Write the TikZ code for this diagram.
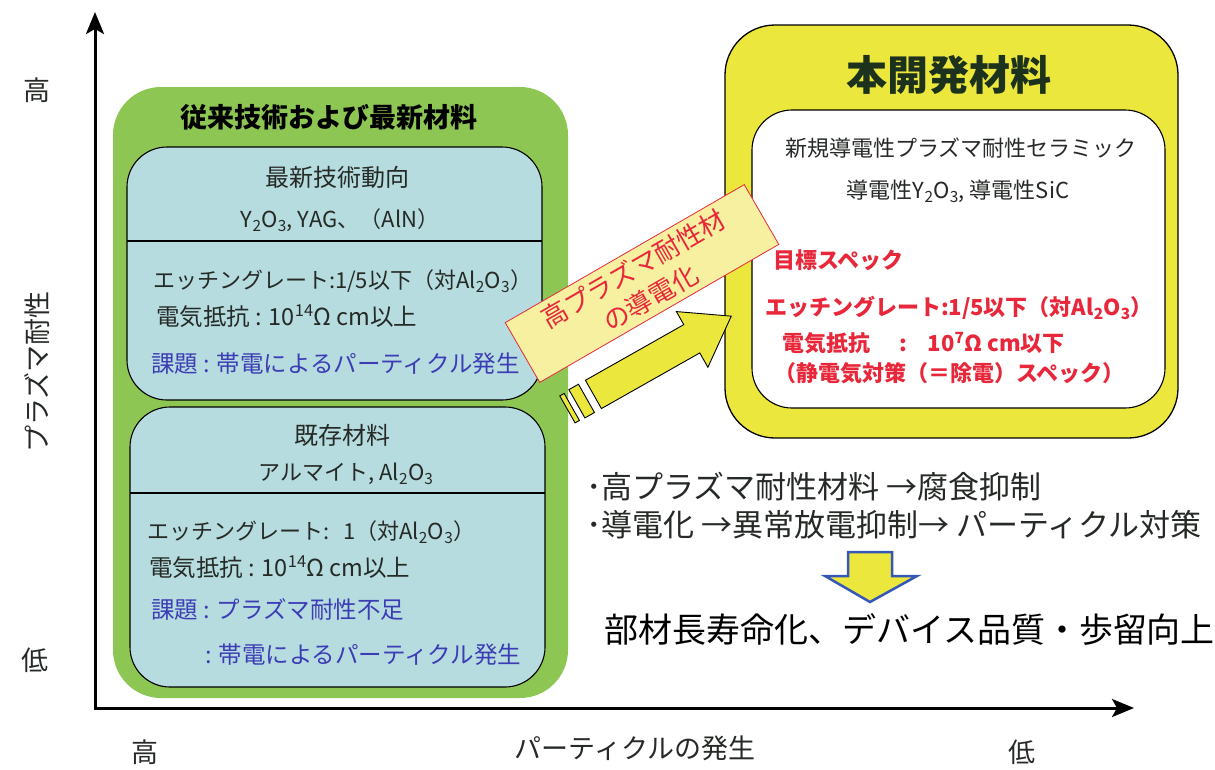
\documentclass[tikz,border=0pt]{standalone}
\usepackage{fontspec}
\setmainfont{Noto Sans CJK JP}
\usetikzlibrary{arrows.meta}
\definecolor{boxgreen}{HTML}{8DC652}
\definecolor{boxblue}{HTML}{B6DCE0}
\definecolor{boxyellow}{HTML}{ECE73C}
\definecolor{lblfill}{HTML}{F6F0A0}
\definecolor{redtxt}{HTML}{E8283A}
\definecolor{bluetxt}{HTML}{3C3CB4}
\definecolor{darktxt}{HTML}{262A26}
\definecolor{titlegreen}{HTML}{1C321C}
\definecolor{arrowblue}{HTML}{3557B8}
\begin{document}
\begin{tikzpicture}[x=1pt,y=1pt,
  every node/.style={inner sep=0pt, outer sep=0pt, text=darktxt},
  s22/.style={font=\fontsize{22}{26}\selectfont, text height=19.4pt, text depth=2.6pt},
  s23/.style={font=\fontsize{23.5}{27}\selectfont, text height=20.7pt, text depth=2.8pt},
  s24/.style={font=\fontsize{24}{28}\selectfont, text height=21.1pt, text depth=2.9pt},
  s27/.style={font=\fontsize{27}{31}\selectfont, text height=23.8pt, text depth=3.2pt},
  s31/.style={font=\fontsize{31}{35}\selectfont, text height=27.3pt, text depth=3.7pt},
  s34/.style={font=\fontsize{34}{39}\selectfont, text height=29.9pt, text depth=4.1pt},
  b22/.style={font=\fontsize{22}{26}\selectfont\bfseries, text height=19.4pt, text depth=2.6pt},
  b27/.style={font=\fontsize{27}{31}\selectfont\bfseries, text height=23.8pt, text depth=3.2pt},
  b41/.style={font=\fontsize{41}{46}\selectfont\bfseries, text height=36.1pt, text depth=4.9pt},
  lft/.style={anchor=west},
  bluebox/.style={draw=black, line width=1.1pt, fill=boxblue, rounded corners=40pt},
  divider/.style={draw=black, line width=1.1pt},
  bigarrow/.style={draw=black, line width=0.9pt, fill=boxyellow, line join=miter},
  axis/.style={line width=3pt, {Stealth[length=22pt,width=18pt,inset=5pt]}-{Stealth[length=22pt,width=18pt,inset=5pt]}},
]
\useasboundingbox (0,0) rectangle (1215,-769);

% axes
\coordinate (Ytop) at (95,-12);
\coordinate (O) at (95,-708);
\coordinate (Xend) at (1134,-708);
\draw[axis] (Ytop) -- (O) -- (Xend);
\node[s27] (yhigh) at (37,-90) {高};
\node[s27, rotate=90] (ylab) at (37,-372) {プラズマ耐性};
\node[s27] (ylow) at (35,-660) {低};
\node[s27] (xhigh) at (145,-752) {高};
\node[s27] (xlab) at (635,-748) {パーティクルの発生};
\node[s27] (xlow) at (1022,-752) {低};

% green group
\node[fill=boxgreen, rounded corners=48pt, minimum width=455pt, minimum height=611pt] (green) at (340.5,-392.5) {};
\node[b27, text=black] (gtitle) at (329,-117) {従来技術および最新材料};

% top blue box
\node[bluebox, minimum width=415pt, minimum height=253pt] (btop) at (334.5,-273.5) {};
\coordinate (d1) at (0,-241);
\draw[divider] (btop.west |- d1) -- (btop.east |- d1);
\node[s24] (t1) at (337,-177) {最新技術動向};
\node[s22] (t2) at (340,-219) {Y\textsubscript{2}O\textsubscript{3}, YAG、（AlN）};
\node[s22, lft] (t3) at (153,-280) {エッチングレート:1/5以下（対Al\textsubscript{2}O\textsubscript{3}）};
\node[s23, lft] (t4) at (156,-317) {電気抵抗 : 10\textsuperscript{14}Ω cm以上};
\node[s23, lft, text=bluetxt] (t5) at (151,-364) {課題 : 帯電によるパーティクル発生};

% bottom blue box
\node[bluebox, minimum width=415pt, minimum height=280pt] (bbot) at (337.5,-547) {};
\coordinate (d2) at (0,-493);
\draw[divider] (bbot.west |- d2) -- (bbot.east |- d2);
\node[s24] (u1) at (342,-435) {既存材料};
\node[s22] (u2) at (346,-472) {アルマイト, Al\textsubscript{2}O\textsubscript{3}};
\node[s22, lft] (u3) at (147,-531) {エッチングレート:\hspace{14pt}1（対Al\textsubscript{2}O\textsubscript{3}）};
\node[s23, lft] (u4) at (149,-568) {電気抵抗 : 10\textsuperscript{14}Ω cm以上};
\node[s23, lft, text=bluetxt] (u5) at (151,-610) {課題 : プラズマ耐性不足};
\node[s23, lft, text=bluetxt] (u6) at (205,-655) {: 帯電によるパーティクル発生};

% yellow group
\node[draw=black, line width=1.3pt, fill=boxyellow, rounded corners=50pt, minimum width=453pt, minimum height=413pt] (ybox) at (951.5,-231.5) {};
\node[draw=black, line width=1.1pt, fill=white, rounded corners=40pt, minimum width=413pt, minimum height=298pt] (wbox) at (958.5,-259) {};
\node[b41, text=titlegreen] (ytitle) at (949,-75) {本開発材料};
\node[s22] (w1) at (961,-148) {新規導電性プラズマ耐性セラミック};
\node[s22] (w2) at (958,-190) {導電性Y\textsubscript{2}O\textsubscript{3}, 導電性SiC};
\node[b22, lft, text=redtxt] (w3) at (773,-260) {目標スペック};
\node[b22, lft, text=redtxt] (w4) at (765,-307) {エッチングレート:1/5以下（対Al\textsubscript{2}O\textsubscript{3}）};
\node[b22, lft, text=redtxt] (w5) at (782,-343) {電気抵抗\hspace{30pt}:\hspace{20pt}10\textsuperscript{7}Ω cm以下};
\node[b22, lft, text=redtxt] (w6) at (774,-373) {（静電気対策（＝除電）スペック）};

% big yellow arrow
\begin{scope}[shift={(593.3,-394.2)}, rotate=29.5]
  \draw[bigarrow] (0,16) -- (113,16) -- (113,31) -- (158.5,0) -- (113,-33) -- (113,-16.5) -- (0,-16.5) -- cycle;
  \draw[bigarrow] (-19,16) rectangle (-8,-16.5);
  \draw[bigarrow] (-30,15) rectangle (-25,-16);
\end{scope}

% rotated label
\node[draw=redtxt, line width=0.8pt, fill=lblfill, rotate=30, minimum width=276pt, minimum height=69pt, align=center, text=redtxt, font=\fontsize{26}{34}\selectfont] (lbl) at (642,-283.5) {高プラズマ耐性材\\の導電化};

% right bottom texts
\node[s31, lft] (r1) at (586,-487) {･高プラズマ耐性材料 →腐食抑制};
\node[s31, lft] (r2) at (586,-525) {･導電化 →異常放電抑制→ パーティクル対策};
\draw[draw=arrowblue, line width=2.5pt, fill=boxyellow, line join=miter]
  (848,-552) -- (892,-552) -- (892,-576) -- (917,-576) -- (870,-602) -- (825,-576) -- (848,-576) -- cycle;
\node[s34, lft, text=black] (r3) at (604,-630) {部材長寿命化、デバイス品質・歩留向上};
\end{tikzpicture}
\end{document}
